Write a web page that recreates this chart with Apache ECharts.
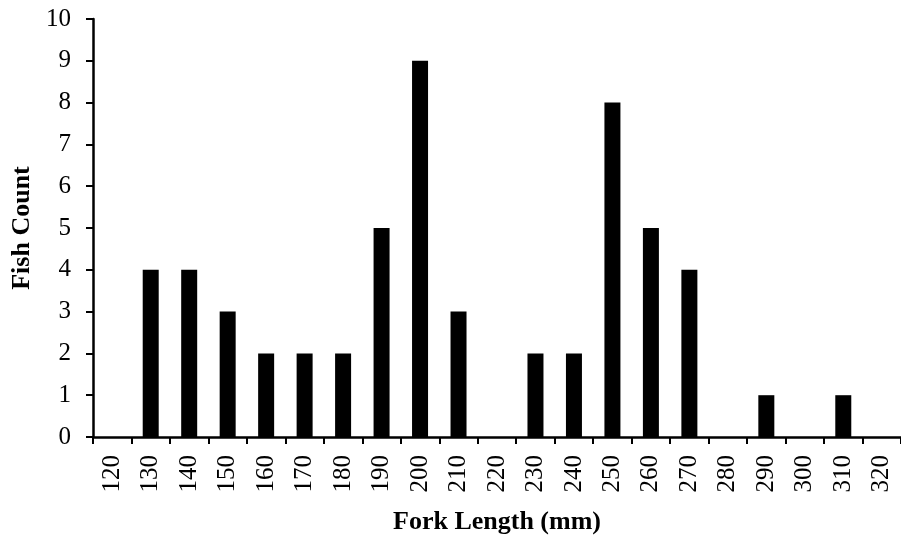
<!DOCTYPE html>
<html>
<head>
<meta charset="utf-8">
<script src="https://cdn.jsdelivr.net/npm/echarts@6/dist/echarts.min.js"></script>
<style>
  html, body { margin: 0; padding: 0; background: #fff; }
  #chart { width: 901px; height: 538px; }
</style>
</head>
<body>
<div id="chart"></div>
<script>
// fork length bins (mm) and fish count per bin
var lengths = ['120', '130', '140', '150', '160', '170', '180', '190', '200', '210', '220',
               '230', '240', '250', '260', '270', '280', '290', '300', '310', '320'];
var counts = [0, 4, 4, 3, 2, 2, 2, 5, 9, 3, 0, 2, 2, 8, 5, 4, 0, 1, 0, 1, 0];

var font = 'Liberation Serif, Times New Roman, serif';

var option = {
    animation: false,
    grid: {
        left: 93,
        right: 0,
        top: 19,
        bottom: 101,
        containLabel: false,
        outerBoundsMode: 'none'
    },
    xAxis: {
        type: 'category',
        data: lengths,
        name: 'Fork Length (mm)',
        nameLocation: 'middle',
        nameGap: 72,
        nameTextStyle: {
            fontFamily: font,
            fontSize: 26,
            fontWeight: 'bold',
            color: '#000'
        },
        axisLine: { lineStyle: { color: '#000', width: 2.5 } },
        axisTick: {
            show: true,
            alignWithLabel: false,
            length: 7,
            lineStyle: { color: '#000', width: 2 }
        },
        axisLabel: {
            rotate: 90,
            interval: 0,
            margin: 18,
            fontFamily: font,
            fontSize: 25,
            color: '#000'
        },
        splitLine: { show: false }
    },
    yAxis: {
        type: 'value',
        min: 0,
        max: 10,
        interval: 1,
        name: 'Fish Count',
        nameLocation: 'middle',
        nameGap: 58,
        nameTextStyle: {
            fontFamily: font,
            fontSize: 26,
            fontWeight: 'bold',
            color: '#000'
        },
        axisLine: { show: true, lineStyle: { color: '#000', width: 2.5 } },
        axisTick: {
            show: true,
            length: 7,
            lineStyle: { color: '#000', width: 2 }
        },
        axisLabel: {
            margin: 22,
            fontFamily: font,
            fontSize: 25,
            color: '#000'
        },
        splitLine: { show: false }
    },
    series: [
        {
            type: 'bar',
            data: counts,
            barWidth: 16,
            itemStyle: { color: '#000' }
        }
    ]
};

var chart = echarts.init(document.getElementById('chart'));
chart.setOption(option);
</script>
</body>
</html>
